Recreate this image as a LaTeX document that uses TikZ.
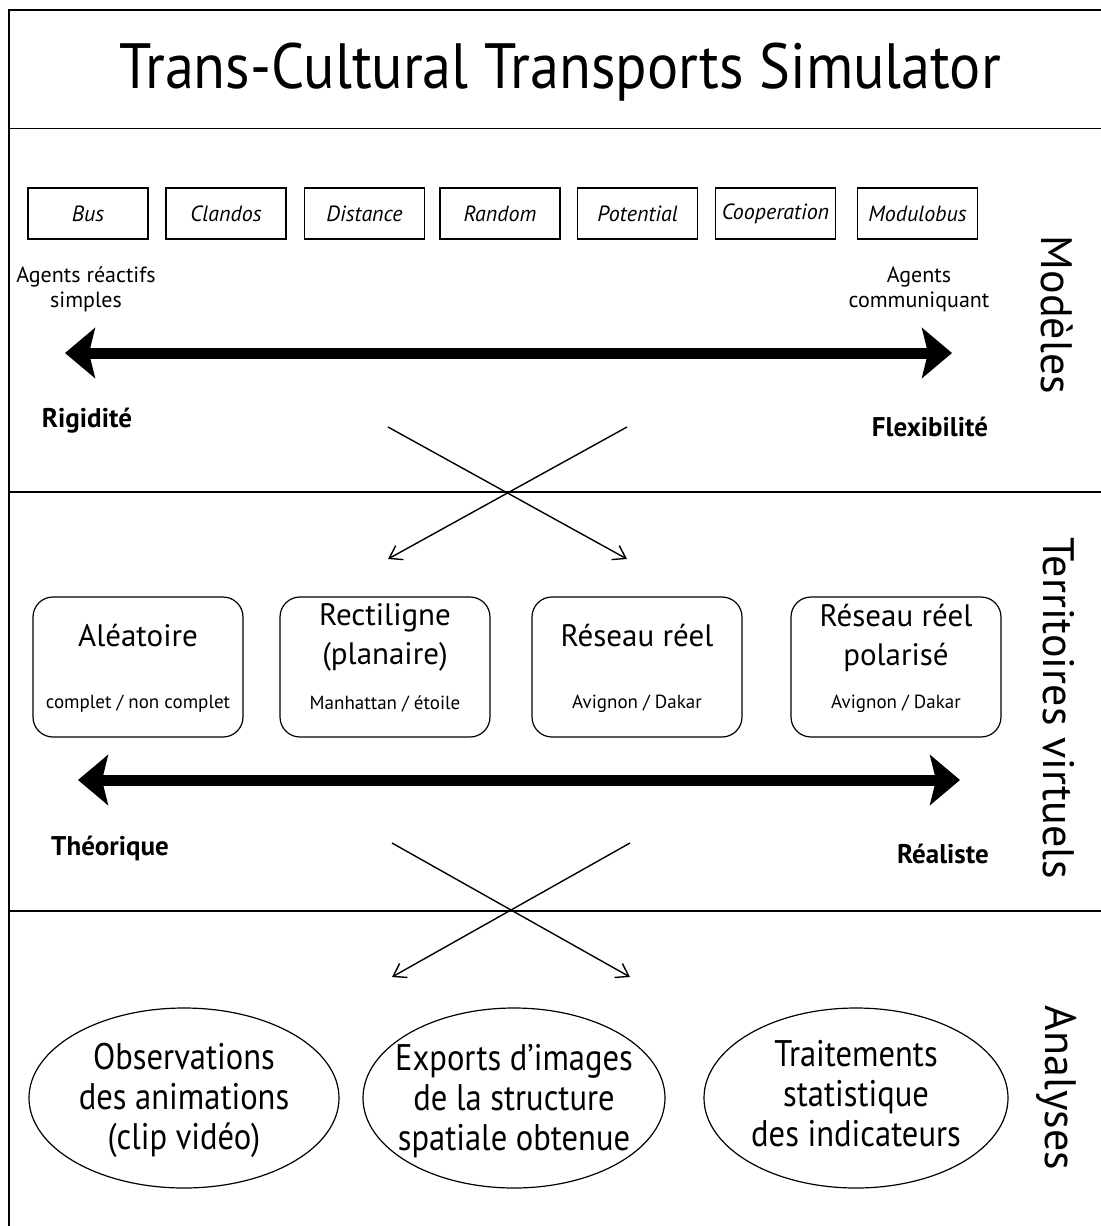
\documentclass[tikz,border=0pt]{standalone}
\usepackage{fontspec}
\usepackage{graphicx}
\setmainfont{PT Sans}
\usetikzlibrary{arrows.meta,shapes.geometric}
\newcommand{\narrowlines}[2]{\scalebox{#1}[1]{\begin{tabular}{@{}c@{}}#2\end{tabular}}}
\begin{document}
\begin{tikzpicture}[x=0.5pt,y=-0.5pt,
  model/.style={draw,line width=0.7pt,minimum width=60pt,minimum height=25.5pt,inner sep=0pt,font=\fontsize{11}{13}\selectfont\itshape},
  terrbox/.style={draw,rounded corners=10pt,line width=0.6pt,minimum width=105pt,minimum height=70pt,inner sep=0pt},
  terrname/.style={font=\fontsize{15.5}{19.5}\selectfont,inner sep=0pt},
  terrsub/.style={font=\fontsize{9.5}{11}\selectfont,inner sep=0pt},
  analyse/.style={draw,ellipse,line width=0.6pt,minimum width=155pt,minimum height=90pt,inner sep=0pt},
  analysetext/.style={font=\fontsize{18.5}{20}\selectfont,inner sep=0pt},
  pole/.style={font=\fontsize{11}{12.5}\selectfont,align=center,inner sep=0pt},
  extreme/.style={font=\fontsize{13.5}{15}\selectfont\bfseries,inner sep=0pt},
  level/.style={font=\fontsize{22}{26}\selectfont,rotate=-90,inner sep=0pt},
  bigarrow/.style={line width=5.5pt,{Stealth[length=15pt,width=25pt,inset=3pt]}-{Stealth[length=15pt,width=25pt,inset=3pt]}},
  crossarrow/.style={line width=0.7pt,-{Straight Barb[length=6pt,width=8pt]}},
  frame/.style={line width=0.8pt}]
  \useasboundingbox (0,0) rectangle (1101,1226);
  % frame and dividers
  \draw[frame] (1101,10) -- (9,10) -- (9,1226);
  \draw[frame] (9,128.5) -- (1101,128.5);
  \draw[frame] (9,492) -- (1101,492);
  \draw[frame] (9,911) -- (1101,911);
  \node[font=\fontsize{32}{36}\selectfont,inner sep=0pt] (title) at (560,72) {\scalebox{0.91}[1]{Trans-Cultural Transports Simulator}};

  % models
  \node[model] (bus) at (88,213.5) {Bus};
  \node[model] (clandos) at (226,213.5) {Clandos};
  \node[model] (distance) at (364.5,213.5) {Distance};
  \node[model] (random) at (500,213.5) {Random};
  \node[model] (potential) at (637.5,213.5) {Potential};
  \node[model] (coop) at (775.5,213.5) {Cooperation};
  \node[model] (modulobus) at (917.5,213.5) {Modulobus};
  \node[pole] (reactifs) at (86,289) {Agents réactifs\\simples};
  \node[pole] (communiquant) at (919,289) {Agents\\communiquant};
  \coordinate (m-left) at (65,353);
  \coordinate (m-right) at (952,353);
  \draw[bigarrow] (m-left) -- (m-right);
  \node[extreme] (rigidite) at (87,421) {Rigidité};
  \node[extreme] (flexibilite) at (930,427) {Flexibilité};
  \node[level] (modeles) at (1057,315) {Modèles};

  % models x territories
  \coordinate (c1-nw) at (388,427);
  \coordinate (c1-ne) at (627,427);
  \coordinate (c1-sw) at (388,559);
  \coordinate (c1-se) at (627,559);
  \draw[crossarrow] (c1-nw) -- (c1-se);
  \draw[crossarrow] (c1-ne) -- (c1-sw);

  % territories
  \node[terrbox] (aleatoire) at (138,667) {};
  \node[terrbox] (rectiligne) at (385,667) {};
  \node[terrbox] (reseau) at (637,667) {};
  \node[terrbox] (polarise) at (896,667) {};
  \node[terrname] (aleatoire-t) at (138,636) {Aléatoire};
  \node[terrname,align=center] (rectiligne-t) at (385,637.5) {Rectiligne\\(planaire)};
  \node[terrname] (reseau-t) at (637,636) {Réseau réel};
  \node[terrname,align=center] (polarise-t) at (896,637.5) {Réseau réel\\polarisé};
  \node[terrsub] (aleatoire-s) at (138,704) {complet / non complet};
  \node[terrsub] (rectiligne-s) at (385,704) {Manhattan / étoile};
  \node[terrsub] (reseau-s) at (637,704) {Avignon / Dakar};
  \node[terrsub] (polarise-s) at (896,704) {Avignon / Dakar};
  \coordinate (t-left) at (78,780);
  \coordinate (t-right) at (960,780);
  \draw[bigarrow] (t-left) -- (t-right);
  \node[extreme] (theorique) at (110,848) {Théorique};
  \node[extreme] (realiste) at (943,854) {Réaliste};
  \node[level] (territoires) at (1059,708) {Territoires virtuels};

  % territories x analyses
  \coordinate (c2-nw) at (392,843);
  \coordinate (c2-ne) at (630,843);
  \coordinate (c2-sw) at (392,977);
  \coordinate (c2-se) at (630,977);
  \draw[crossarrow] (c2-nw) -- (c2-se);
  \draw[crossarrow] (c2-ne) -- (c2-sw);

  % analyses
  \node[analyse] (observations) at (184,1098) {};
  \node[analyse,minimum width=151pt] (exports) at (514,1098) {};
  \node[analyse,minimum width=152pt] (traitements) at (856,1098) {};
  \node[analysetext] (observations-t) at (184,1101) {\narrowlines{0.88}{Observations\\des animations\\(clip vidéo)}};
  \node[analysetext] (exports-t) at (514,1102) {\narrowlines{0.88}{Exports d’images\\de la structure\\spatiale obtenue}};
  \node[analysetext] (traitements-t) at (856,1098) {\narrowlines{0.88}{Traitements\\statistique\\des indicateurs}};
  \node[level] (analyses) at (1057,1088) {Analyses};
\end{tikzpicture}
\end{document}
